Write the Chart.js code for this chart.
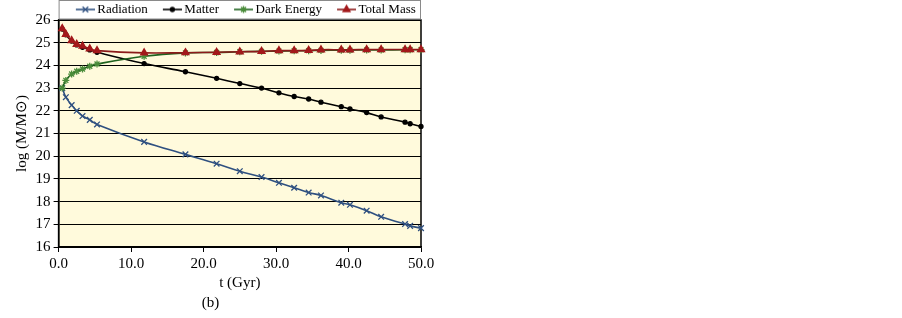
<!DOCTYPE html>
<html>
<head>
<meta charset="utf-8">
<script src="https://cdn.jsdelivr.net/npm/chart.js@4/dist/chart.umd.min.js"></script>
<style>
  body { margin: 0; background: #fff; }
  #caja { width: 902px; height: 318px; }
</style>
</head>
<body>
<div id="caja"><canvas id="grafico" width="902" height="318"></canvas></div>
<script>
// tiempo (Gyr) y log de la masa para cada componente
const tiempo = [0.5, 1.0, 1.8, 2.5, 3.3, 4.3, 5.3, 11.8, 17.5, 21.8, 25.0, 28.0, 30.4, 32.5, 34.5, 36.2, 39.0, 40.2, 42.5, 44.5, 47.8, 48.5, 50.0];
const radiacion = [23.0, 22.6, 22.25, 22.0, 21.77, 21.6, 21.4, 20.63, 20.08, 19.67, 19.34, 19.08, 18.83, 18.61, 18.40, 18.27, 17.95, 17.86, 17.60, 17.33, 17.01, 16.93, 16.83];
const materia = [25.6, 25.35, 25.07, 24.9, 24.8, 24.68, 24.58, 24.08, 23.72, 23.43, 23.20, 23.0, 22.79, 22.63, 22.52, 22.38, 22.18, 22.08, 21.92, 21.73, 21.50, 21.43, 21.31];
const energiaOscura = [23.0, 23.34, 23.62, 23.74, 23.84, 23.96, 24.06, 24.40, 24.55, 24.57, 24.60, 24.62, 24.63, 24.64, 24.65, 24.66, 24.67, 24.67, 24.68, 24.68, 24.69, 24.69, 24.69];
const masaTotal = [25.62, 25.37, 25.09, 24.93, 24.85, 24.73, 24.65, 24.55, 24.56, 24.58, 24.60, 24.62, 24.65, 24.65, 24.66, 24.69, 24.69, 24.69, 24.70, 24.70, 24.70, 24.70, 24.70];

const etiquetasX = [0, 10, 20, 30, 40, 50];
const nombres = ['Radiation', 'Matter', 'Dark Energy', 'Total Mass'];

const fuente = 'Liberation Serif, Times New Roman, serif';

function puntos(valores) {
  return tiempo.map((t, i) => ({ x: t, y: valores[i] }));
}

// muestra de linea + marcador para la leyenda
function muestra(colorLinea, colorMarca, estilo, radio) {
  const c = document.createElement('canvas');
  c.width = 35; c.height = 12;
  const g = c.getContext('2d');
  g.strokeStyle = colorLinea;
  g.lineWidth = 1.6;
  g.beginPath(); g.moveTo(16, 6); g.lineTo(35, 6); g.stroke();
  g.strokeStyle = colorMarca;
  g.fillStyle = colorMarca;
  g.lineWidth = 1.3;
  Chart.helpers.drawPoint(g, { pointStyle: estilo, radius: radio, rotation: 0, borderWidth: 1.3 }, 25.5, 6);
  return c;
}

const series = [
  { datos: radiacion, linea: '#2f5080', marca: '#2f5080', estilo: 'crossRot', radio: 4, orden: 3 },
  { datos: materia, linea: '#000000', marca: '#000000', estilo: 'circle', radio: 2, orden: 2 },
  { datos: energiaOscura, linea: '#1f621f', marca: '#4a8c3a', estilo: 'star', radio: 3.5, orden: 1 },
  { datos: masaTotal, linea: '#8b1a1a', marca: '#a3191b', estilo: 'triangle', radio: 4, orden: 0 }
];

const muestras = series.map(s => muestra(s.linea, s.marca, s.estilo, s.radio));

const fondoPlot = {
  id: 'fondoPlot',
  beforeDraw(chart) {
    const { ctx, chartArea: a } = chart;
    ctx.save();
    ctx.fillStyle = '#fffadc';
    ctx.fillRect(a.left, a.top, a.width, a.height);
    ctx.restore();
  },
  beforeDatasetsDraw(chart) {
    const { ctx, chartArea: a } = chart;
    ctx.save();
    ctx.strokeStyle = '#000';
    ctx.lineWidth = 1.5;
    ctx.strokeRect(a.left, a.top, a.width, a.height);
    ctx.restore();
  },
  afterDraw(chart) {
    // recuadro de la leyenda, pegado encima del area del grafico
    const { ctx, chartArea: a } = chart;
    ctx.save();
    ctx.strokeStyle = '#8a8a8a';
    ctx.lineWidth = 1;
    ctx.strokeRect(a.left + 0.5, 0.5, a.width - 1, a.top - 1.5);
    ctx.restore();
  }
};

new Chart(document.getElementById('grafico'), {
  type: 'line',
  data: {
    datasets: series.map((s, i) => ({
      label: nombres[i],
      data: puntos(s.datos),
      borderColor: s.linea,
      backgroundColor: s.marca,
      pointBorderColor: s.marca,
      pointBackgroundColor: s.marca,
      pointStyle: s.estilo,
      pointRadius: s.radio,
      pointBorderWidth: 1.3,
      borderWidth: 1.6,
      tension: 0.4,
      order: s.orden,
      clip: 8
    }))
  },
  options: {
    responsive: false,
    animation: false,
    layout: { padding: { left: 0, right: 481, top: 0, bottom: 0 } },
    plugins: {
      tooltip: { enabled: false },
      legend: {
        position: 'top',
        fullSize: false,
        maxHeight: 20,
        labels: {
          usePointStyle: true,
          pointStyleWidth: 27,
          padding: 3,
          color: '#000',
          font: { family: fuente, size: 13 },
          generateLabels(chart) {
            const items = Chart.defaults.plugins.legend.labels.generateLabels(chart);
            items.sort((a, b) => a.datasetIndex - b.datasetIndex);
            items.forEach(it => { it.pointStyle = muestras[it.datasetIndex]; });
            return items;
          }
        }
      },
      title: {
        display: true,
        position: 'bottom',
        text: '(b)',
        color: '#000',
        font: { family: fuente, size: 15, weight: 'normal' },
        padding: { top: 0, bottom: 6 }
      }
    },
    scales: {
      x: {
        type: 'linear',
        min: 0,
        max: 50,
        afterFit(scale) { scale.height = 47; },
        afterBuildTicks(scale) { scale.ticks = etiquetasX.map(v => ({ value: v })); },
        ticks: {
          color: '#000',
          font: { family: fuente, size: 15 },
          padding: 3,
          maxRotation: 0,
          callback: v => v.toFixed(1)
        },
        grid: { drawOnChartArea: false, drawTicks: true, tickLength: 5, color: '#000' },
        border: { color: '#000', width: 1.5 },
        title: {
          display: true,
          text: 't (Gyr)',
          color: '#000',
          font: { family: fuente, size: 15 },
          padding: { top: 0, bottom: 2 }
        }
      },
      y: {
        min: 16,
        max: 26,
        afterFit(scale) { scale.width = 58.6; },
        ticks: {
          stepSize: 1,
          autoSkip: false,
          color: '#000',
          font: { family: fuente, size: 15 },
          padding: 3
        },
        grid: { color: '#000', lineWidth: 1, tickLength: 5 },
        border: { color: '#000', width: 1.5 },
        title: {
          display: true,
          text: 'log (M/M\u2299)',
          color: '#000',
          font: { family: fuente, size: 15 },
          padding: { top: 13, bottom: 4 }
        }
      }
    }
  },
  plugins: [fondoPlot]
});
</script>
</body>
</html>
